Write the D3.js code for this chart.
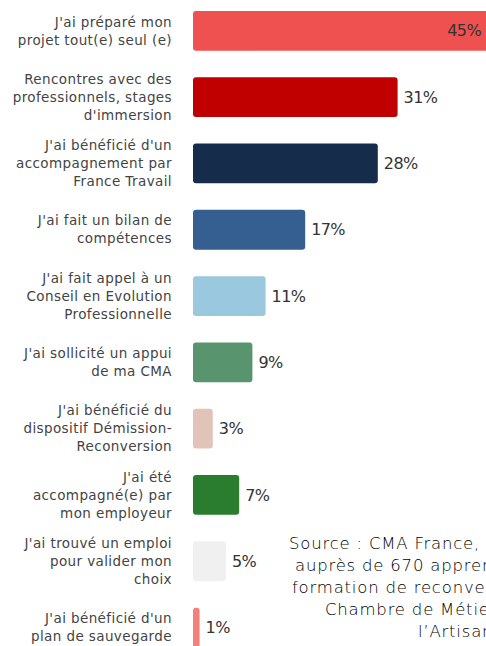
<!DOCTYPE html>
<html lang="fr">
<head>
<meta charset="utf-8">
<script src="https://cdn.jsdelivr.net/npm/d3@7"></script>
<style>
  html, body { margin: 0; padding: 0; background: #fff; overflow: hidden; }
  svg { display: block; }
</style>
</head>
<body>
<div id="chart"></div>
<script>
// Dispositifs mobilisés pour préparer la reconversion (% de répondants)
const categories = [
  ["J'ai préparé mon", "projet tout(e) seul (e)"],
  ["Rencontres avec des", "professionnels, stages", "d'immersion"],
  ["J'ai bénéficié d'un", "accompagnement par", "France Travail"],
  ["J'ai fait un bilan de", "compétences"],
  ["J'ai fait appel à un", "Conseil en Evolution", "Professionnelle"],
  ["J'ai sollicité un appui", "de ma CMA"],
  ["J'ai bénéficié du", "dispositif Démission-", "Reconversion"],
  ["J'ai été", "accompagné(e) par", "mon employeur"],
  ["J'ai trouvé un emploi", "pour valider mon", "choix"],
  ["J'ai bénéficié d'un", "plan de sauvegarde"]
];
const values = [45, 31, 28, 17, 11, 9, 3, 7, 5, 1];
const barColors = ["#ef5050", "#c00000", "#152c4a", "#355f91", "#9ac8de",
                   "#58956f", "#e2c3b9", "#2a7d2e", "#f0f0f0", "#f4807a"];
const sourceLines = [
  "Source : CMA France, enquête",
  "auprès de 670 apprenants en",
  "formation de reconversion des",
  "Chambre de Métiers et de",
  "l’Artisanat"
];

const W = 486, H = 646;
const svg = d3.select("#chart").append("svg")
  .attr("width", W).attr("height", H);

const keys = categories.map((c, i) => "c" + i);
const x = d3.scaleLinear().domain([0, 45]).range([193, 490]);
const y = d3.scaleBand().domain(keys).range([-2.3, 660.7])
  .paddingInner(0.4).paddingOuter(0.2);

const rows = keys.map((k, i) => ({ k, lines: categories[i], v: values[i], color: barColors[i] }));

// bars
svg.append("g").selectAll("rect").data(rows).join("rect")
  .attr("x", x(0))
  .attr("y", d => y(d.k))
  .attr("width", d => x(d.v) - x(0))
  .attr("height", y.bandwidth())
  .attr("rx", 3)
  .attr("fill", d => d.color);

// category labels, right-aligned before the bars
const lineH = 18;
const lab = svg.append("g").selectAll("text").data(rows).join("text")
  .attr("text-anchor", "end")
  .attr("font-family", "'DejaVu Sans', sans-serif")
  .attr("font-size", 13.5)
  .attr("letter-spacing", 0.4)
  .attr("fill", "#444");
lab.each(function(d) {
  const n = d.lines.length;
  const cy = y(d.k) + y.bandwidth() / 2;
  d3.select(this).selectAll("tspan").data(d.lines).join("tspan")
    .attr("x", 172)
    .attr("y", (l, j) => cy + (j - (n - 1) / 2) * lineH)
    .attr("dy", "0.35em")
    .text(l => l);
});

// value labels
svg.append("g").selectAll("text").data(rows).join("text")
  .attr("x", d => d.v >= 40 ? W - 5 : x(d.v) + 6)
  .attr("y", d => y(d.k) + y.bandwidth() / 2)
  .attr("dy", "0.35em")
  .attr("text-anchor", d => d.v >= 40 ? "end" : "start")
  .attr("font-family", "'DejaVu Sans', sans-serif")
  .attr("font-size", 16)
  .attr("letter-spacing", -0.6)
  .attr("fill", "#333")
  .text(d => d.v + "%");

// source note
const srcX = [289, 295, 292, 325, 418];
svg.append("g").selectAll("text").data(sourceLines).join("text")
  .attr("x", (d, i) => srcX[i])
  .attr("y", (d, i) => 543 + i * 22)
  .attr("dy", "0.35em")
  .attr("font-family", "'DejaVu Sans', sans-serif")
  .attr("font-size", 16.5)
  .attr("font-weight", 200)
  .attr("letter-spacing", 0.8)
  .attr("fill", "#000")
  .text(d => d);
</script>
</body>
</html>
